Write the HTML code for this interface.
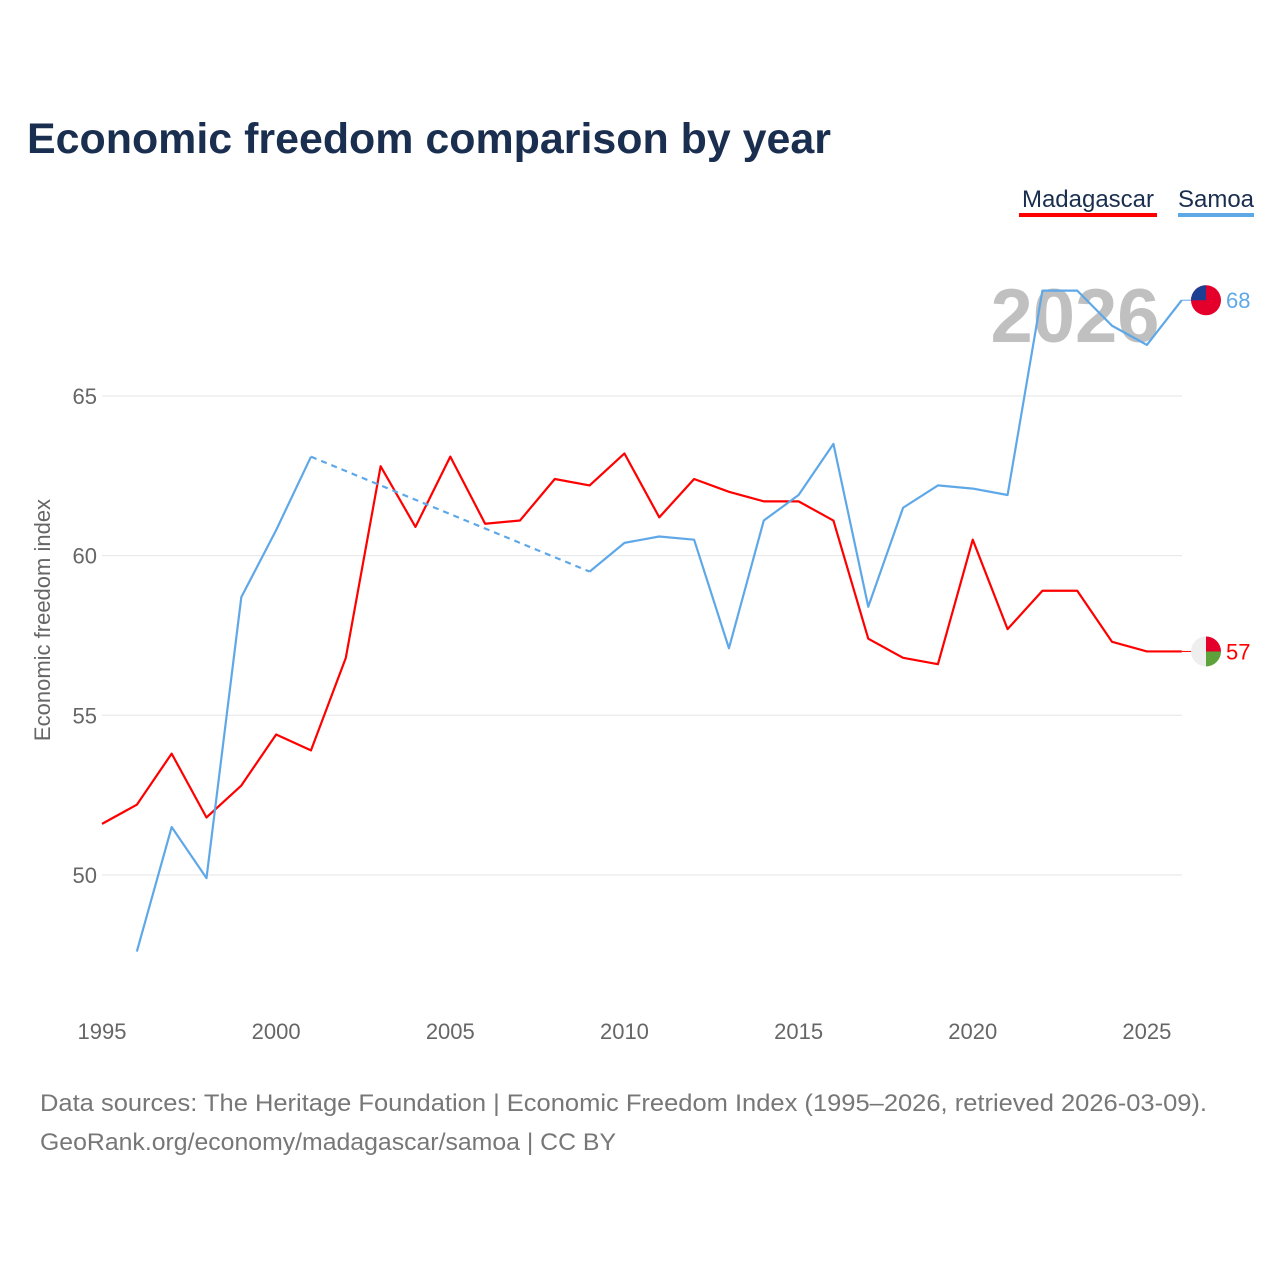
<!DOCTYPE html>
<html><head><meta charset="utf-8">
<style>
body{margin:0;background:#fff;font-family:"Liberation Sans",sans-serif;}
#wrap{position:relative;width:1280px;height:1280px;overflow:hidden;}
</style></head>
<body><div id="wrap">
<svg id="chart" width="1280" height="1280">
<text x="27" y="153" font-size="43" font-weight="bold" fill="#1a2e4f" textLength="804" lengthAdjust="spacingAndGlyphs">Economic freedom comparison by year</text>
<g>
<text x="1088" y="207" font-size="24" fill="#1a2e4f" text-anchor="middle">Madagascar</text>
<rect x="1019" y="213" width="138" height="4" fill="#ff0000"/>
<text x="1216" y="207" font-size="24" fill="#1a2e4f" text-anchor="middle">Samoa</text>
<rect x="1178" y="213" width="76" height="4" fill="#5fa8e8"/>
</g>
<text x="1075" y="342" font-size="76" font-weight="bold" fill="#c0c0c0" text-anchor="middle">2026</text>
<text transform="translate(50,620) rotate(-90)" font-size="22" fill="#666" text-anchor="middle">Economic freedom index</text>
<g id="grid"></g><g id="xt"></g><g id="lines"></g>
<text x="40" y="1111" font-size="24" fill="#777" textLength="1167" lengthAdjust="spacingAndGlyphs">Data sources: The Heritage Foundation | Economic Freedom Index (1995–2026, retrieved 2026-03-09).</text>
<text x="40" y="1150" font-size="24" fill="#777" textLength="576" lengthAdjust="spacingAndGlyphs">GeoRank.org/economy/madagascar/samoa | CC BY</text>
</svg></div>
<script>
const years=[1995,1996,1997,1998,1999,2000,2001,2002,2003,2004,2005,2006,2007,2008,2009,2010,2011,2012,2013,2014,2015,2016,2017,2018,2019,2020,2021,2022,2023,2024,2025,2026];
const madagascar=[51.6,52.2,53.8,51.8,52.8,54.4,53.9,56.8,62.8,60.9,63.1,61.0,61.1,62.4,62.2,63.2,61.2,62.4,62.0,61.7,61.7,61.1,57.4,56.8,56.6,60.5,57.7,58.9,58.9,57.3,57.0,57.0];
const samoa=[null,47.6,51.5,49.9,58.7,60.8,63.1,null,null,null,null,null,null,null,59.5,60.4,60.6,60.5,57.1,61.1,61.9,63.5,58.4,61.5,62.2,62.1,61.9,68.3,68.3,67.2,66.6,68.0];
const yTicks=[50,55,60,65];
const xTicks=[1995,2000,2005,2010,2015,2020,2025];
const X=y=>102+(y-1995)*34.83;
const Y=v=>396+(65-v)*31.93;
const NS='http://www.w3.org/2000/svg';
function mk(t,a,p){const e=document.createElementNS(NS,t);for(const k in a)e.setAttribute(k,a[k]);p.appendChild(e);return e;}
const grid=document.getElementById('grid'),xt=document.getElementById('xt'),L=document.getElementById('lines');
yTicks.forEach(v=>{
 const l=mk('line',{x1:102,x2:1182,y1:Y(v),y2:Y(v),stroke:'#e6e6e6','stroke-width':1},grid);
 
 
 const t=mk('text',{x:97,y:Y(v)+8,'font-size':22,fill:'#666','text-anchor':'end'},grid);t.textContent=v;
 
 
});
xTicks.forEach(y=>{
 const t=mk('text',{x:X(y),y:1039,'font-size':22,fill:'#666','text-anchor':'middle'},xt);t.textContent=y;
 
 
});
function series(vals,color,name){
 let segs=[],cur=[],gaps=[];let last=null;
 vals.forEach((v,i)=>{
  if(v==null){if(cur.length){segs.push(cur);cur=[];}return;}
  if(last!=null&&last.i!==i-1)gaps.push([last,{i,v}]);
  cur.push([X(years[i]),Y(v)]);last={i,v};
 });
 if(cur.length)segs.push(cur);
 segs.forEach((s,k)=>{
  const p=mk('polyline',{points:s.map(q=>q.join(',')).join(' '),fill:'none',stroke:color,'stroke-width':2.2,'stroke-linejoin':'round'},L);
  
  
 });
 gaps.forEach(g=>{
  const p=mk('line',{x1:X(years[g[0].i]),y1:Y(g[0].v),x2:X(years[g[1].i]),y2:Y(g[1].v),stroke:color,'stroke-width':2.2,'stroke-dasharray':'6,5'},L);
  
  
 });
 const lv=vals[vals.length-1],ly=Y(lv),lx=X(years[years.length-1]);
 mk('line',{x1:lx,x2:lx+10,y1:ly,y2:ly,stroke:color,'stroke-width':1},L);
 const t=mk('text',{x:1226,y:ly+8,'font-size':22,fill:color},L);t.textContent=Math.round(lv);
 
 
 return ly;
}
const my=series(madagascar,'#ff0000','madagascar');
const sy=series(samoa,'#5fa8e8','samoa');
let g=mk('g',{},L);
mk('circle',{cx:1206,cy:my,r:15,fill:'#eee'},g);
mk('path',{d:`M1206 ${my} h15 a15 15 0 0 0 -15 -15 z`,fill:'#e4002b'},g);
mk('path',{d:`M1206 ${my} h15 a15 15 0 0 1 -15 15 z`,fill:'#5ea23b'},g);
g=mk('g',{},L);
mk('circle',{cx:1206,cy:sy,r:15,fill:'#e4002b'},g);
mk('path',{d:`M1206 ${sy} h-15 a15 15 0 0 1 15 -15 z`,fill:'#1c3f94'},g);
</script>
</body></html>
